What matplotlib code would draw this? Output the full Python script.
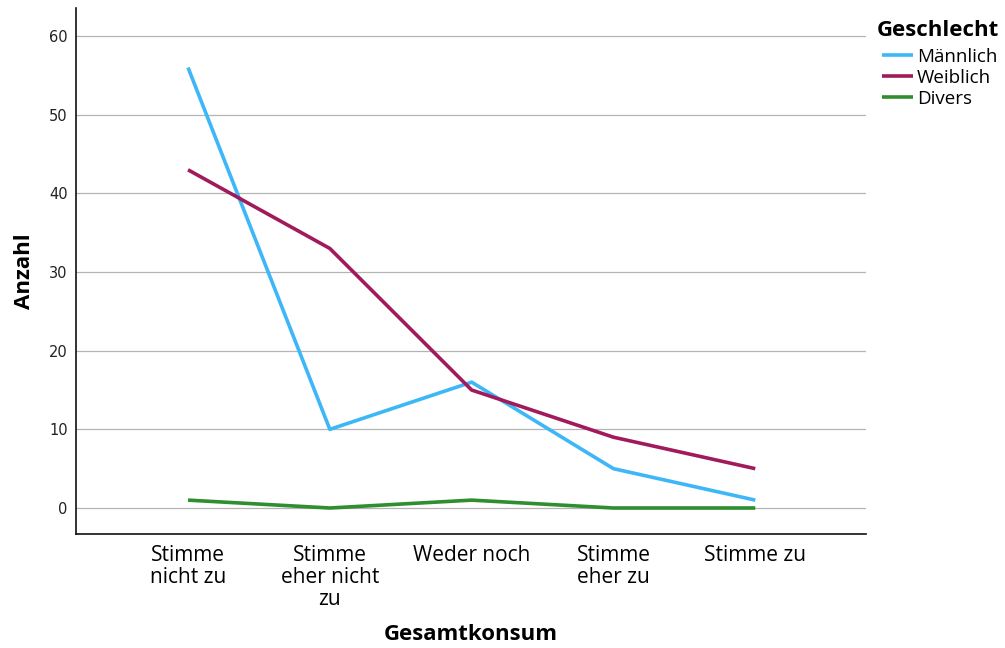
import matplotlib.pyplot as plt

# categories on the x axis (wrapped like the original)
categories = ["Stimme\nnicht zu", "Stimme\neher nicht\nzu", "Weder noch",
              "Stimme\neher zu", "Stimme zu"]

# counts per gender
maennlich = [56, 10, 16, 5, 1]
weiblich = [43, 33, 15, 9, 5]
divers = [1, 0, 1, 0, 0]

series_names = ["Männlich", "Weiblich", "Divers"]
series_colors = ["#3DB7F7", "#A11A5B", "#2F8F2F"]
y_ticks = [0, 10, 20, 30, 40, 50, 60]


def plot_chart():
    """Draw the SPSS style line chart and save it."""
    fig = plt.figure(figsize=(10.05, 6.48), dpi=100)
    ax = fig.add_axes([0.0756, 0.176, 0.786, 0.812])

    x = list(range(len(categories)))
    for values, name, color in zip([maennlich, weiblich, divers], series_names, series_colors):
        ax.plot(x, values, color=color, linewidth=2.6, label=name,
                solid_joinstyle="round", solid_capstyle="butt")

    ax.set_xlim(-0.79, 4.78)
    ax.set_ylim(-3.3, 63.6)
    ax.set_yticks(y_ticks)
    ax.set_yticklabels([str(t) for t in y_ticks], fontsize=10.5, color="#222222",
                       family="DejaVu Sans")
    ax.set_xticks(x)
    ax.set_xticklabels(categories, fontsize=15, family="Open Sans", linespacing=1.05,
                       va="top")
    ax.tick_params(axis="both", length=0)
    ax.tick_params(axis="x", pad=8)
    ax.tick_params(axis="y", pad=6)

    ax.grid(axis="y", color="#b4b4b4", linewidth=0.9)
    ax.set_axisbelow(True)
    for side in ["top", "right"]:
        ax.spines[side].set_visible(False)
    for side in ["left", "bottom"]:
        ax.spines[side].set_linewidth(1.2)
        ax.spines[side].set_color("#111111")

    ax.set_xlabel("Gesamtkonsum", fontsize=16, fontweight="bold", family="Open Sans")
    ax.xaxis.set_label_coords(0.5, -0.172)
    ax.set_ylabel("Anzahl", fontsize=16, fontweight="bold", family="Open Sans",
                  labelpad=10)

    # legend title placed separately to get the wider gap of the original
    fig.text(877 / 1005, 1 - 30 / 648, "Geschlecht", fontsize=16, fontweight="bold",
             family="Open Sans", ha="left", va="center")
    ax.legend(loc="upper left", bbox_to_anchor=(882 / 1005, 1 - 48 / 648),
              bbox_transform=fig.transFigure, frameon=False,
              handlelength=1.65, handletextpad=0.2, borderpad=0, borderaxespad=0,
              labelspacing=0.16, prop={"family": "Open Sans", "size": 13.5})

    fig.savefig("out.png", dpi=100)


def main():
    plot_chart()


if __name__ == "__main__":
    main()
